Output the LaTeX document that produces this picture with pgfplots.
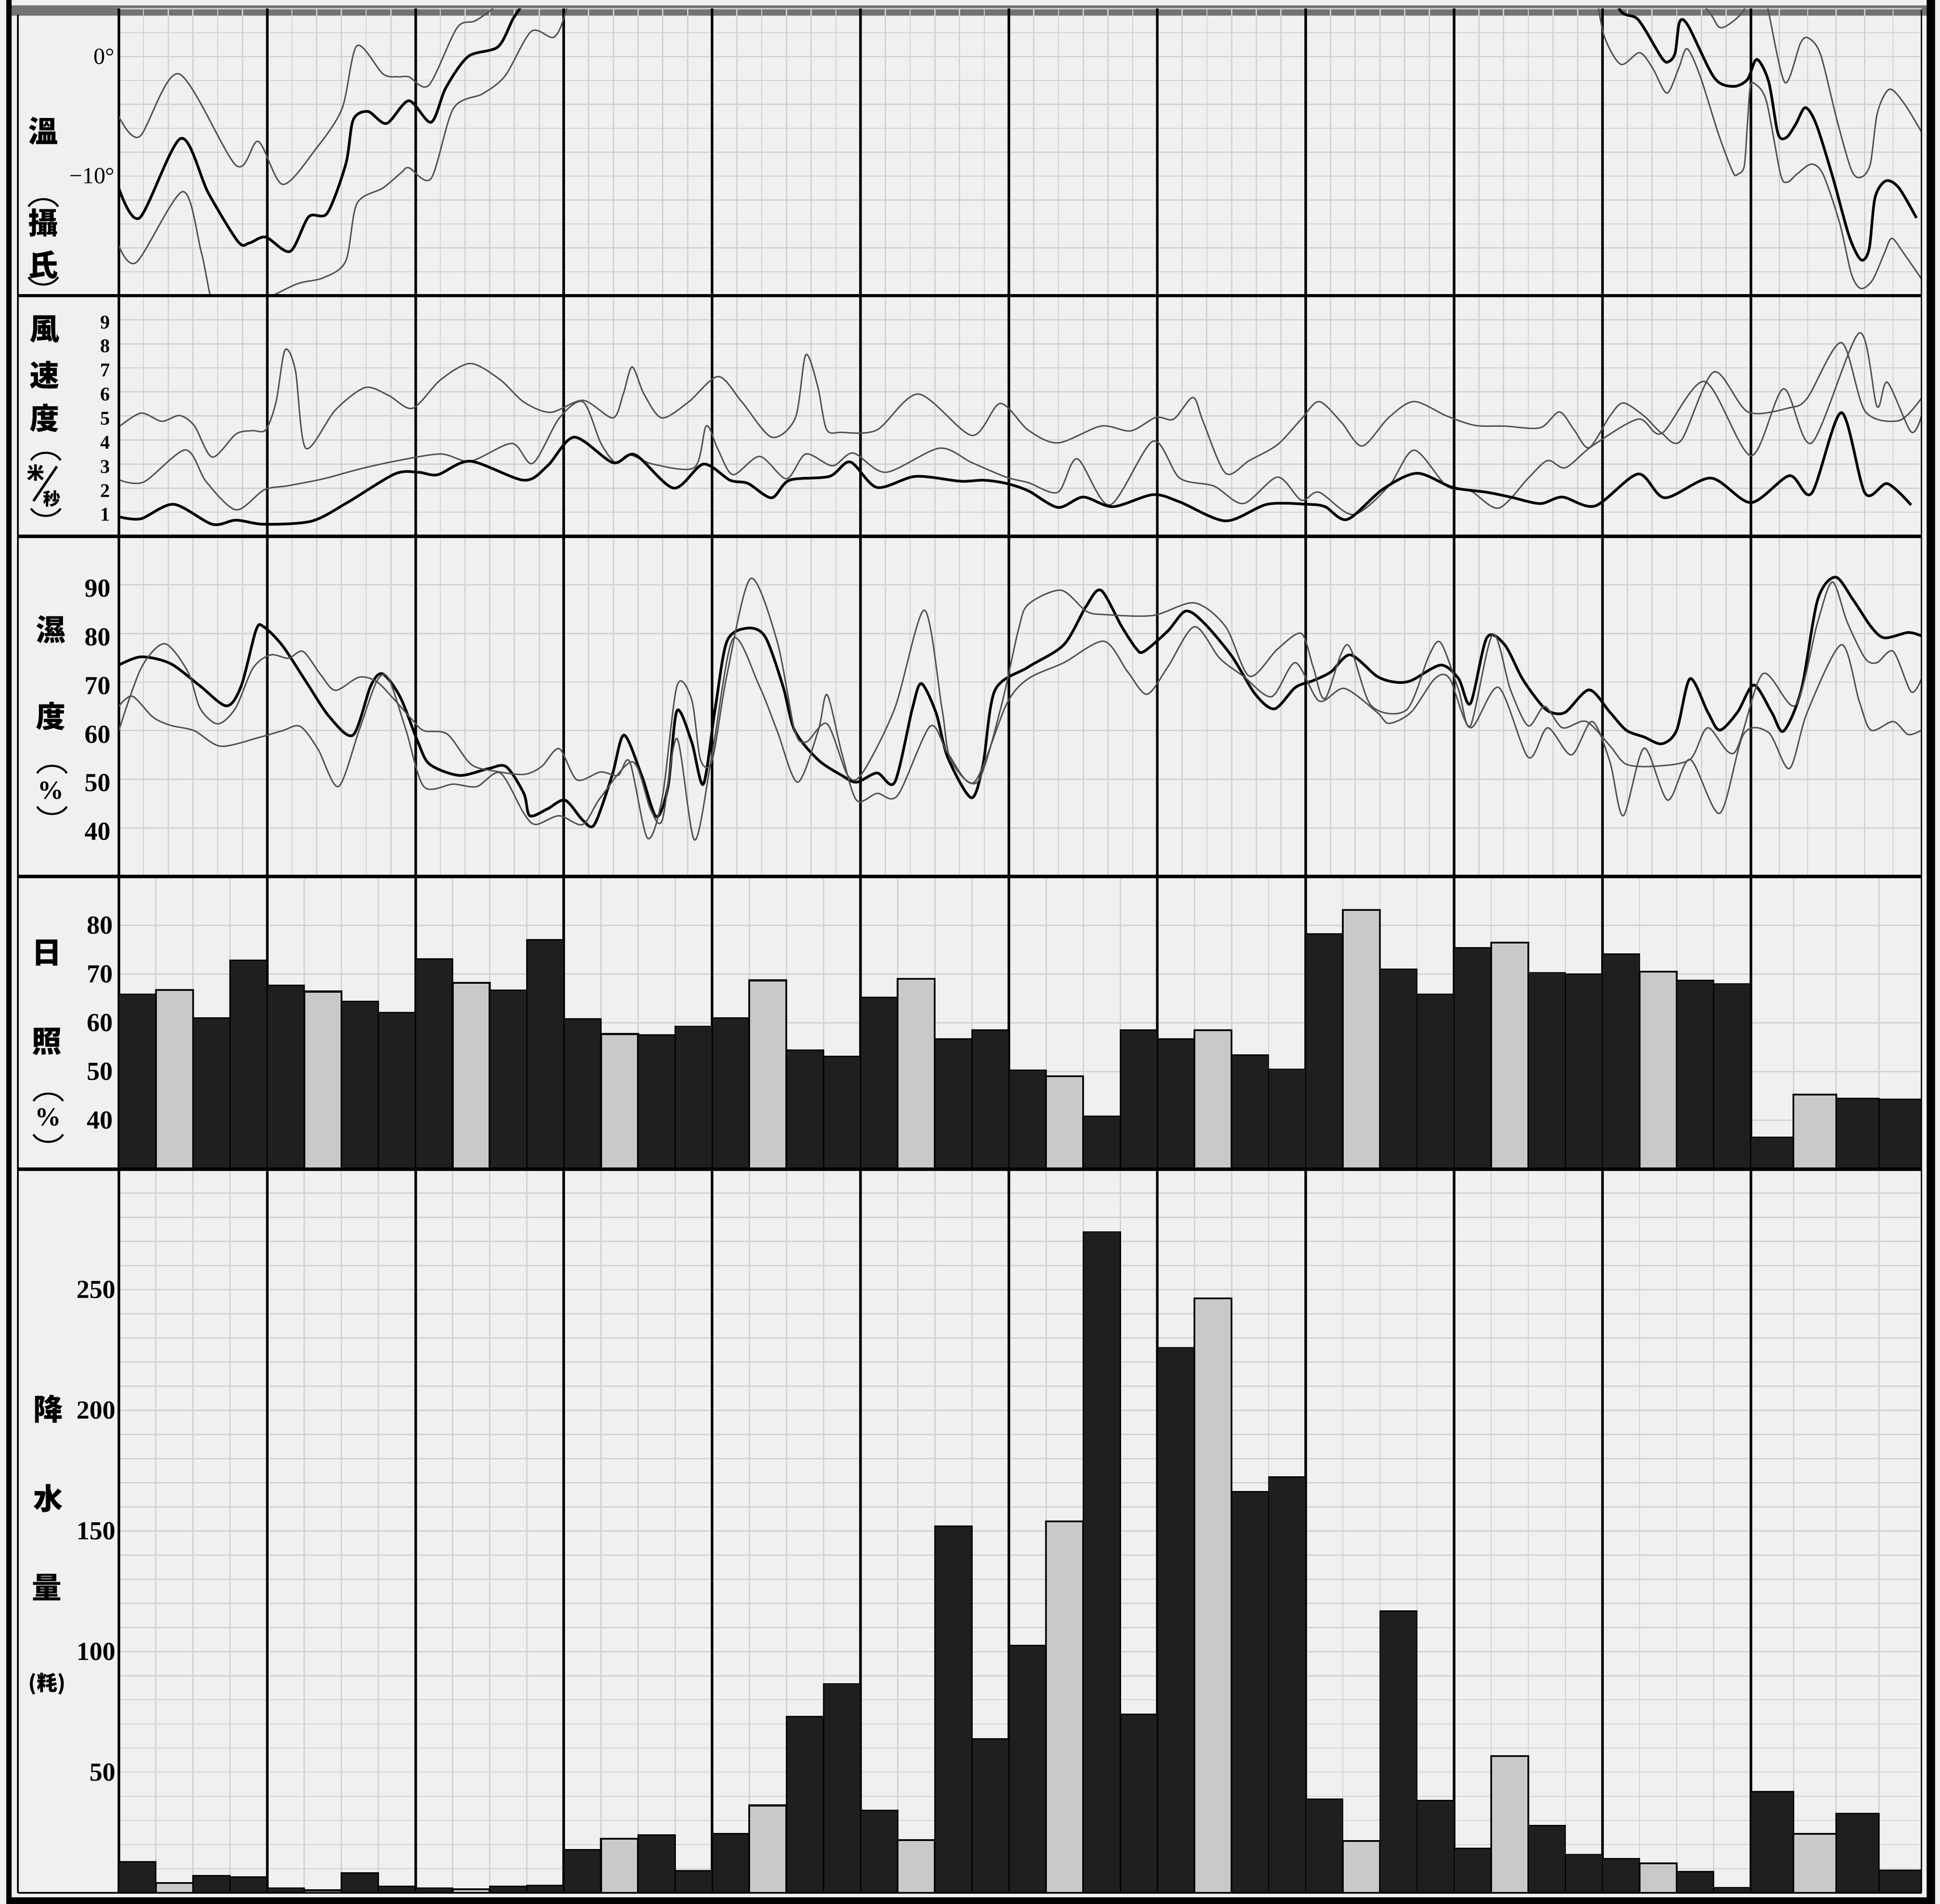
\documentclass[border=0pt]{standalone}
\usepackage{fontspec}
\setmainfont{Liberation Serif}
\newfontfamily\cjk{Noto Sans CJK JP}
\usepackage{pgfplots}
\usepackage{pgfplotstable}
\pgfplotsset{compat=1.18}

% sunshine (%), four bars a month, the second one light
\pgfplotstableread{
m A B C D
0 65.9 66.7 61.0 72.8
1 67.7 66.4 64.4 62.1
2 73.1 68.2 66.7 77.0
3 60.8 57.7 57.5 59.3
4 61.0 68.7 54.4 53.1
5 65.2 69.0 56.7 58.5
6 50.3 49.0 40.8 58.5
7 56.7 58.5 53.4 50.5
8 78.2 83.1 71.0 65.9
9 75.4 76.4 70.3 70.0
10 74.1 70.5 68.7 68.0
}\sun
\pgfplotstableread{
m A B C D
11 36.5 45.3 44.5 44.3
}\sunlast

% precipitation (mm)
\pgfplotstableread{
m A B C D
0 12.8 4.1 7.1 6.6
1 2.0 1.0 8.2 2.6
2 2.0 1.5 2.6 3.1
3 17.9 22.4 24.0 9.2
4 24.5 36.2 73.0 86.7
5 34.2 21.9 152.0 63.8
6 102.6 154.0 274.0 74.0
7 226.0 246.4 166.3 172.4
8 38.8 21.4 116.8 38.3
9 18.4 56.6 27.8 15.9
10 14.1 12.2 8.75 2.2
}\rain
\pgfplotstableread{
m A B C D
11 41.9 24.4 32.8 9.4
}\rainlast

\pgfplotsset{
  panel/.style={
    scale only axis, width=437.1pt, xmin=0, xmax=12.15,
    axis line style={draw=none}, tick style={draw=none},
    major tick length=0pt,
    xticklabels={}, yticklabels={},
    xmajorgrids, ymajorgrids,
    major grid style={gray!36, line width=0.3pt},
    extra x ticks={0,1,...,11}, extra x tick labels={},
    extra x tick style={major grid style={black, line width=0.65pt}},
    extra y tick style={grid=none},
    yticklabel style={anchor=east, inner sep=0pt},
  },
  fine/.style={xtick={0,0.1666667,...,11,11.19167,11.38333,11.575,11.76667,11.95833}},
  coarse/.style={xtick={0,0.25,...,11,11.2875,11.575,11.8625}},
  thin/.style={black!68, line width=0.35pt, smooth, tension=0.5, mark=none},
  thick/.style={black, line width=0.65pt, smooth, tension=0.5, mark=none},
  blk/.style={ybar, bar shift=0pt, fill=black!88, draw=black, line width=0.3pt},
  gry/.style={ybar, bar shift=0pt, fill=gray!42, draw=black, line width=0.45pt},
  digits/.style={font=\fontsize{6.3}{6.3}\selectfont\bfseries},
}

\tikzset{
  px/.style={x=0.3pt, y=-0.3pt, shift={(0pt,461.7pt)}},
  kj/.style={font=\fontsize{7.2}{7.2}\selectfont\cjk\bfseries, inner sep=0pt},
}
\newcommand\popen[2]{\draw[line width=0.5pt] (#1-12,#2+4) .. controls (#1-7,#2-4) and (#1+7,#2-4) .. (#1+12,#2+4);}
\newcommand\pclose[2]{\draw[line width=0.5pt] (#1-12,#2-4) .. controls (#1-7,#2+4) and (#1+7,#2+4) .. (#1+12,#2-4);}

\begin{document}
\begin{tikzpicture}
\useasboundingbox (0,0) rectangle (470.4pt,461.7pt);
\fill[black!6] (0,0) rectangle (470.4pt,461.7pt);
\begin{scope}[px]
  \fill[black!55] (9.5,4.5) rectangle (1557,12.5);
\end{scope}

% temperature
\begin{axis}[panel, fine, at={(28.8pt,390pt)}, anchor=south west, height=69.6pt,
  ymin=-20, ymax=4, ytick={-20,-18,...,4},
  extra y ticks={-10,0}, extra y tick labels={−10°,0°},
  yticklabel style={font=\fontsize{5.6}{5.6}\selectfont, xshift=-0.8pt}]
\addplot[thin] coordinates {(0,-5.0) (0.14,-6.7) (0.405,-1.45) (0.79,-9.1) (0.94,-7.1) (1.105,-10.7) (1.33,-7.7) (1.505,-4.35) (1.605,0.9) (1.78,-1.45) (1.88,-1.7) (1.955,-1.7) (2.09,-2.4) (2.28,2.4) (2.405,3.0) (2.555,4.5) (2.7,8)};
\addplot[thick] coordinates {(0,-11) (0.14,-13.5) (0.418,-6.85) (0.605,-11.45) (0.805,-15.5) (0.88,-15.6) (0.99,-15.1) (1.155,-16.3) (1.28,-13.4) (1.405,-13.1) (1.53,-9.0) (1.58,-5.3) (1.68,-4.6) (1.805,-5.6) (1.955,-3.7) (2.105,-5.5) (2.205,-2.6) (2.355,0) (2.555,0.8) (2.655,3.1) (2.72,4.5) (2.8,8)};
\addplot[thin] coordinates {(0,-15.8) (0.12,-17.2) (0.43,-11.3) (0.555,-16.3) (0.63,-20.6) (0.71,-21.2) (0.85,-20.8) (0.985,-20.3) (1.205,-19) (1.38,-18.5) (1.53,-17.1) (1.605,-12.3) (1.78,-11) (1.905,-9.7) (1.955,-9.3) (2.105,-10.2) (2.255,-4.35) (2.455,-3.1) (2.605,-1.6) (2.78,2.1) (2.93,1.6) (3.005,3.4) (3.1,8)};
\addplot[thin] coordinates {(10.5,7) (10.72,3.7) (10.8,2.4) (10.944,3.7) (11.02,6) (11.08,6) (11.12,3.7) (11.23,-2.18) (11.335,1.13) (11.39,1.53) (11.47,0.16) (11.58,-5.3) (11.678,-9.5) (11.742,-10.1) (11.805,-9.0) (11.853,-4.7) (11.933,-2.74) (12.03,-3.87) (12.15,-6.3)};
\addplot[thick] coordinates {(10.0,7) (10.123,3.8) (10.242,3.06) (10.402,-0.16) (10.45,-0.4) (10.49,0.32) (10.52,2.9) (10.577,2.58) (10.753,-1.77) (10.88,-2.5) (10.976,-1.94) (11.04,-0.24) (11.12,-2.1) (11.183,-6.45) (11.24,-6.77) (11.303,-5.65) (11.367,-4.27) (11.44,-5.65) (11.55,-10) (11.662,-15) (11.742,-17) (11.797,-16.1) (11.837,-11.8) (11.91,-10.4) (11.997,-10.97) (12.116,-13.5)};
\addplot[thin] coordinates {(9.95,6) (10.01,1.77) (10.123,-0.65) (10.25,0.32) (10.338,-0.97) (10.434,-3.06) (10.514,-0.97) (10.57,0.65) (10.657,-1.6) (10.785,-6.6) (10.88,-9.7) (10.912,-9.84) (10.955,-9.2) (10.975,-6) (10.995,-2.6) (11.024,-2.26) (11.104,-3.7) (11.2,-9.84) (11.247,-10.5) (11.31,-9.84) (11.407,-9.0) (11.486,-9.84) (11.598,-13.9) (11.678,-18.2) (11.742,-19.4) (11.82,-18.7) (11.9,-16.45) (11.95,-15.2) (12.03,-16.45) (12.15,-18.6)};
\end{axis}

% wind speed
\begin{axis}[panel, fine, at={(28.8pt,331.65pt)}, anchor=south west, height=58.35pt,
  ymin=0, ymax=10, ytick={0,1,...,10},
  extra y ticks={1,2,...,9}, extra y tick labels={1,2,3,4,5,6,7,8,9},
  yticklabel style={font=\fontsize{4.7}{4.7}\selectfont\bfseries, xshift=-1.9pt, yshift=-0.6pt}]
\addplot[thin] coordinates {(0.01,4.59) (0.15,5.12) (0.29,4.78) (0.41,5.02) (0.51,4.59) (0.63,3.29) (0.79,4.25) (0.90,4.39) (0.99,4.42) (1.06,5.58) (1.12,7.74) (1.19,6.91) (1.26,3.66) (1.46,5.25) (1.66,6.18) (1.82,5.85) (1.98,5.32) (2.17,6.51) (2.37,7.18) (2.57,6.51) (2.73,5.58) (2.91,5.15) (3.13,5.65) (3.33,4.92) (3.40,5.91) (3.46,7.04) (3.54,5.91) (3.66,4.92) (3.84,5.58) (4.04,6.64) (4.20,5.58) (4.40,4.12) (4.56,4.92) (4.63,7.54) (4.71,6.25) (4.77,4.45) (4.87,4.32) (5.11,4.42) (5.39,5.91) (5.75,4.19) (5.94,5.52) (6.13,4.41) (6.33,3.88) (6.62,4.58) (6.82,4.38) (6.99,4.94) (7.11,4.87) (7.24,5.77) (7.31,4.74) (7.46,2.62) (7.62,3.15) (7.81,3.81) (7.97,4.87) (8.09,5.6) (8.24,4.74) (8.38,3.75) (8.56,4.94) (8.73,5.6) (8.95,5.0) (9.14,4.61) (9.34,4.58) (9.58,4.51) (9.71,5.17) (9.81,4.41) (9.91,3.68) (10.05,5.0) (10.14,5.54) (10.28,5.0) (10.40,4.28) (10.53,3.98) (10.75,6.83) (10.98,5.17) (11.26,5.34) (11.38,5.74) (11.61,8.05) (11.77,5.2) (12.0,4.81) (12.15,5.74)};
\addplot[thin] coordinates {(0.01,2.33) (0.17,2.26) (0.45,3.59) (0.59,2.26) (0.79,1.1) (0.98,1.93) (1.14,2.1) (1.38,2.39) (1.62,2.79) (1.86,3.12) (2.17,3.42) (2.37,3.12) (2.65,3.86) (2.79,3.03) (2.97,4.92) (3.13,5.58) (3.25,3.86) (3.35,3.06) (3.44,3.39) (3.60,3.0) (3.88,2.86) (3.96,4.59) (4.04,3.59) (4.14,2.56) (4.32,3.32) (4.50,2.39) (4.63,3.42) (4.81,2.93) (4.95,3.46) (5.17,2.66) (5.53,3.66) (5.75,3.06) (5.98,2.46) (6.13,2.23) (6.33,1.83) (6.46,3.22) (6.68,1.3) (6.97,3.95) (7.15,2.42) (7.38,2.09) (7.58,1.36) (7.81,2.46) (7.97,1.5) (8.09,1.83) (8.32,0.9) (8.56,2.09) (8.73,3.58) (8.95,2.09) (9.11,1.89) (9.30,1.17) (9.50,2.42) (9.63,3.15) (9.75,2.85) (9.93,3.75) (10.24,4.87) (10.40,4.28) (10.69,6.43) (11.0,3.35) (11.22,6.13) (11.41,3.88) (11.73,8.45) (11.85,5.4) (11.92,6.4) (12.08,4.34) (12.15,5.0)};
\addplot[thick] coordinates {(0.01,0.8) (0.15,0.73) (0.37,1.33) (0.63,0.5) (0.79,0.67) (0.98,0.5) (1.30,0.63) (1.54,1.4) (1.86,2.59) (2.02,2.66) (2.15,2.56) (2.37,3.12) (2.73,2.33) (2.89,2.93) (3.07,4.12) (3.33,3.06) (3.48,3.39) (3.74,2.0) (3.94,3.0) (4.12,2.33) (4.24,2.2) (4.40,1.6) (4.52,2.33) (4.79,2.49) (4.93,3.09) (5.11,2.03) (5.37,2.49) (5.67,2.29) (5.83,2.33) (5.98,2.2) (6.13,1.89) (6.33,1.2) (6.50,1.63) (6.70,1.23) (6.97,1.73) (7.15,1.43) (7.46,0.64) (7.74,1.33) (8.01,1.33) (8.13,1.23) (8.28,0.7) (8.52,1.96) (8.75,2.62) (8.99,2.03) (9.22,1.83) (9.38,1.63) (9.58,1.36) (9.73,1.63) (9.95,1.26) (10.24,2.59) (10.42,1.6) (10.73,2.42) (11.0,1.4) (11.26,2.52) (11.41,1.79) (11.61,5.14) (11.77,1.79) (11.92,2.19) (12.08,1.3)};
\end{axis}

% humidity
\begin{axis}[panel, fine, at={(28.8pt,249.15pt)}, anchor=south west, height=82.5pt,
  ymin=30, ymax=100, ytick={30,40,...,100},
  extra y ticks={40,50,...,90}, extra y tick labels={40,50,60,70,80,90},
  yticklabel style={digits, xshift=-1.8pt, yshift=-0.9pt}]
\addplot[thick] coordinates {(0.0,73.5) (0.151,75.2) (0.349,73.8) (0.548,69.2) (0.726,65.1) (0.825,69.2) (0.925,80.7) (0.976,81.4) (1.103,77.5) (1.262,70.1) (1.421,62.8) (1.579,59.1) (1.698,69.2) (1.778,71.7) (1.897,66.9) (2.016,57.7) (2.095,53.1) (2.294,50.8) (2.492,52.2) (2.611,52.6) (2.730,47.1) (2.770,42.5) (2.889,43.9) (3.008,45.7) (3.127,41.6) (3.206,40.7) (3.325,50.8) (3.405,59.1) (3.524,50.8) (3.623,42.3) (3.702,48.5) (3.762,64.1) (3.861,57.7) (3.940,49.0) (4.020,64.6) (4.099,78.4) (4.238,81.1) (4.357,79.3) (4.476,69.2) (4.556,60.0) (4.714,54.0) (4.873,50.8) (4.972,49.4) (5.111,51.3) (5.230,49.4) (5.349,64.6) (5.409,69.7) (5.508,63.7) (5.587,54.5) (5.746,46.2) (5.825,53.1) (5.905,68.3) (6.13,73.1) (6.37,77.7) (6.52,85.6) (6.62,88.9) (6.76,81.4) (6.86,76.8) (6.91,76.3) (7.07,80.5) (7.19,84.6) (7.31,82.3) (7.50,75.4) (7.66,67.5) (7.79,64.5) (7.93,68.9) (8.05,70.3) (8.17,72.1) (8.30,75.6) (8.48,71.2) (8.60,70.0) (8.71,70.3) (8.91,73.5) (9.03,70.7) (9.11,65.6) (9.22,79.1) (9.34,77.7) (9.46,70.7) (9.58,65.6) (9.65,63.8) (9.75,63.8) (9.91,68.4) (10.05,63.8) (10.16,60.1) (10.28,58.7) (10.40,57.3) (10.50,60.1) (10.59,70.7) (10.71,63.8) (10.79,60.1) (10.91,63.8) (11.02,69.4) (11.14,63.8) (11.22,59.9) (11.34,68.4) (11.45,86.9) (11.57,91.6) (11.69,86.9) (11.81,81.4) (11.90,79.1) (12.06,80.2) (12.15,79.5)};
\addplot[thin] coordinates {(0.0,60) (0.151,72.9) (0.310,77.9) (0.468,72.0) (0.548,64.6) (0.667,61.4) (0.786,64.6) (0.905,72.9) (1.024,75.6) (1.143,74.9) (1.242,76.3) (1.361,71.5) (1.460,68.3) (1.619,71.0) (1.738,70.1) (1.857,66.4) (1.976,62.3) (2.056,60.0) (2.214,59.3) (2.373,53.1) (2.532,51.7) (2.730,51.0) (2.849,52.6) (2.968,56.3) (3.087,49.9) (3.246,51.5) (3.365,50.8) (3.444,53.6) (3.563,37.9) (3.663,46.2) (3.762,69.2) (3.861,66.4) (3.921,54.0) (4.0,54.0) (4.099,71.5) (4.258,91.3) (4.437,78.4) (4.556,60.0) (4.635,57.7) (4.774,61.4) (4.913,50.8) (5.012,51.3) (5.230,64.6) (5.429,84.8) (5.548,64.6) (5.607,54.0) (5.786,49.4) (5.944,64.6) (6.063,80.7) (6.13,86.0) (6.35,88.9) (6.52,84.6) (6.64,83.9) (6.97,83.7) (7.25,86.3) (7.46,81.4) (7.62,71.2) (7.81,76.8) (7.97,80.0) (8.05,73.1) (8.13,66.6) (8.28,77.7) (8.44,65.2) (8.68,64.3) (8.83,75.4) (8.91,78.1) (9.03,68.4) (9.11,61.0) (9.26,79.8) (9.38,68.4) (9.50,61.0) (9.61,65.0) (9.73,60.6) (9.89,61.9) (10.05,56.9) (10.16,53.1) (10.36,52.7) (10.59,54.1) (10.71,60.6) (10.89,55.5) (11.08,71.7) (11.30,65.2) (11.45,82.3) (11.55,90.6) (11.65,82.3) (11.77,74.9) (11.85,74.0) (11.96,76.3) (12.08,68.0) (12.15,70.7)};
\addplot[thin] coordinates {(0.0,65) (0.091,67.1) (0.230,62.8) (0.349,61.1) (0.508,60.0) (0.687,56.8) (0.944,58.6) (1.103,60.0) (1.222,60.9) (1.341,56.3) (1.480,48.5) (1.619,60.0) (1.738,70.1) (1.817,70.8) (1.937,60.0) (2.056,48.5) (2.254,49.0) (2.413,48.5) (2.571,51.3) (2.730,43.0) (2.810,40.7) (2.968,42.5) (3.127,40.7) (3.246,46.2) (3.464,53.6) (3.583,43.9) (3.663,41.6) (3.762,58.4) (3.881,37.5) (4.0,55.4) (4.139,78.9) (4.317,69.2) (4.437,60.0) (4.575,49.4) (4.714,60.0) (4.774,67.4) (4.873,55.4) (4.972,45.7) (5.111,47.1) (5.25,46.7) (5.468,60.9) (5.587,55.4) (5.766,49.4) (5.984,65.5) (6.13,70.7) (6.37,74.0) (6.64,78.4) (6.80,72.1) (6.93,67.5) (7.07,73.1) (7.25,81.4) (7.42,74.9) (7.58,71.2) (7.77,67.0) (7.93,74.0) (8.09,66.1) (8.26,68.7) (8.48,63.8) (8.56,61.5) (8.71,63.8) (8.87,70.7) (8.97,70.7) (9.11,60.6) (9.30,68.9) (9.50,54.5) (9.63,60.6) (9.79,55.0) (9.93,61.9) (10.05,53.6) (10.14,42.5) (10.28,56.4) (10.44,45.7) (10.59,54.1) (10.79,43.0) (10.95,59.2) (11.12,59.6) (11.26,52.2) (11.38,63.8) (11.61,77.7) (11.73,66.1) (11.81,60.1) (11.96,61.9) (12.06,59.2) (12.15,60.1)};
\end{axis}

% sunshine
\begin{axis}[panel, coarse, at={(28.8pt,178.2pt)}, anchor=south west, height=70.95pt,
  ymin=30, ymax=90, ytick={30,40,...,90},
  extra y ticks={40,50,...,80}, extra y tick labels={40,50,60,70,80},
  yticklabel style={digits, xshift=-1.2pt}]
\addplot[blk, bar width=0.25] table[x expr=\thisrow{m}+0.125, y=A] {\sun};
\addplot[gry, bar width=0.25] table[x expr=\thisrow{m}+0.375, y=B] {\sun};
\addplot[blk, bar width=0.25] table[x expr=\thisrow{m}+0.625, y=C] {\sun};
\addplot[blk, bar width=0.25] table[x expr=\thisrow{m}+0.875, y=D] {\sun};
\addplot[blk, bar width=0.2875] table[x expr=\thisrow{m}+0.14375, y=A] {\sunlast};
\addplot[gry, bar width=0.2875] table[x expr=\thisrow{m}+0.43125, y=B] {\sunlast};
\addplot[blk, bar width=0.2875] table[x expr=\thisrow{m}+0.71875, y=C] {\sunlast};
\addplot[blk, bar width=0.2875] table[x expr=\thisrow{m}+1.00625, y=D] {\sunlast};
\end{axis}

% precipitation
\begin{axis}[panel, coarse, at={(28.8pt,2.7pt)}, anchor=south west, height=175.5pt,
  ymin=0, ymax=300, ytick={0,10,...,300},
  extra y ticks={50,100,...,250}, extra y tick labels={50,100,150,200,250},
  yticklabel style={digits, xshift=-0.6pt}]
\addplot[blk, bar width=0.25] table[x expr=\thisrow{m}+0.125, y=A] {\rain};
\addplot[gry, bar width=0.25] table[x expr=\thisrow{m}+0.375, y=B] {\rain};
\addplot[blk, bar width=0.25] table[x expr=\thisrow{m}+0.625, y=C] {\rain};
\addplot[blk, bar width=0.25] table[x expr=\thisrow{m}+0.875, y=D] {\rain};
\addplot[blk, bar width=0.2875] table[x expr=\thisrow{m}+0.14375, y=A] {\rainlast};
\addplot[gry, bar width=0.2875] table[x expr=\thisrow{m}+0.43125, y=B] {\rainlast};
\addplot[blk, bar width=0.2875] table[x expr=\thisrow{m}+0.71875, y=C] {\rainlast};
\addplot[blk, bar width=0.2875] table[x expr=\thisrow{m}+1.00625, y=D] {\rainlast};
\end{axis}

\begin{scope}[px]
  % frame and panel rules
  \foreach \yy in {239,433.5,708.5,945} \draw[line width=0.85pt] (14.5,\yy) -- (1553,\yy);
  \draw[line width=0.5pt] (14.5,1530) -- (1553,1530);
  \draw[line width=0.45pt] (14.5,12) -- (14.5,1530);
  \draw[line width=0.4pt] (1553,8) -- (1553,1530);
  \fill (5,0) rectangle (9.5,1539);
  \fill (1557,0) rectangle (1564,1539);
  \fill (5,1533.5) rectangle (1564,1539);
  % temperature
  \node[kj] at (35,106) {溫};
  \popen{35}{163}
  \node[kj] at (35,180) {攝};
  \node[kj] at (35,214) {氏};
  \pclose{35}{228}
  % wind speed
  \node[kj] at (36,266) {風};
  \node[kj] at (36,303) {速};
  \node[kj] at (36,338) {度};
  \popen{37}{368}
  \node[font=\fontsize{4.2}{4.2}\selectfont\cjk\bfseries, inner sep=0pt] at (29,382) {米};
  \draw[line width=0.6pt] (27,405) -- (46,377);
  \node[font=\fontsize{4.2}{4.2}\selectfont\cjk\bfseries, inner sep=0pt] at (42,403) {秒};
  \pclose{37}{415}
  % humidity
  \node[kj] at (41,509) {濕};
  \node[kj] at (41,579) {度};
  \popen{42}{621}
  \node[font=\fontsize{6.3}{6.3}\selectfont\bfseries, inner sep=0pt] at (41,639) {\%};
  \pclose{42}{656}
  % sunshine
  \node[kj] at (38,770) {日};
  \node[kj] at (38,842) {照};
  \popen{39}{886}
  \node[font=\fontsize{6.3}{6.3}\selectfont\bfseries, inner sep=0pt] at (39,903) {\%};
  \pclose{39}{921}
  % precipitation
  \node[kj] at (39,1139) {降};
  \node[kj] at (39,1211) {水};
  \node[kj] at (38,1283) {量};
  \node[font=\fontsize{5}{5}\selectfont\cjk\bfseries, inner sep=0pt] at (38,1361) {(粍)};
\end{scope}
\end{tikzpicture}
\end{document}
